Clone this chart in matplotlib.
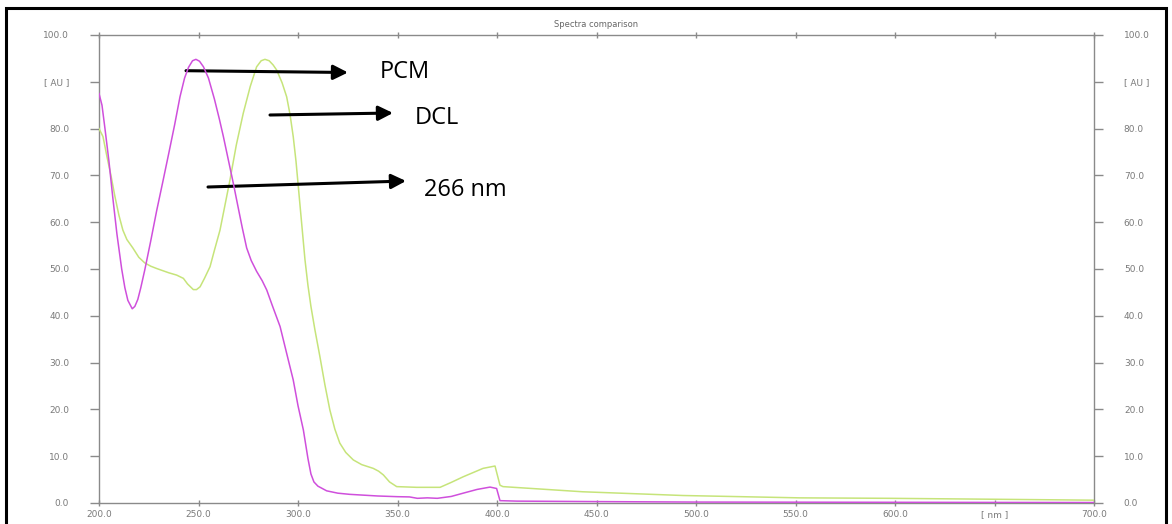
import matplotlib
matplotlib.use("Agg")
import matplotlib.pyplot as plt
from matplotlib.patches import Rectangle

# ---- data ----
pcm_nm = [200, 201.5, 203, 205, 207, 209, 211.4, 213, 214.5, 216.7, 218, 219.5, 221,
          223, 226, 229, 232, 235, 238, 240.7, 243, 245, 247, 248.7, 250.5, 252.5,
          255, 258, 260.5, 262.5, 265, 267.5, 270, 272, 274.2, 276.5, 279.2, 282,
          284.3, 287, 291, 294, 297.6, 300, 302.7, 305, 306.5, 308, 310, 314.4, 320,
          326, 340, 350, 356, 360, 365, 370, 377, 383, 390, 396.5, 399.8, 401.5, 410,
          450, 500, 600, 700]
pcm_au = [87.5, 85, 80, 73, 65, 57.5, 50, 46, 43.3, 41.5, 42, 43.5, 46,
          49.8, 56, 62.5, 68.5, 74.6, 80.8, 86.8, 90.8, 93.1, 94.5, 94.8, 94.4, 93.2,
          90.8, 86.3, 82, 78.3, 73.3, 68.3, 63, 58.8, 54.5, 51.8, 49.5, 47.5,
          45.5, 42.3, 37.7, 32.5, 26.3, 20.8, 15.6, 9.5, 6.2, 4.5, 3.6, 2.6, 2.1,
          1.85, 1.5, 1.35, 1.3, 1.0, 1.1, 1.0, 1.4, 2.1, 2.9, 3.4, 3.1, 0.5, 0.4,
          0.3, 0.2, 0.15, 0.1]

dcl_nm = [200, 202, 204, 206, 208, 210, 212, 214, 217, 220, 223, 226, 229, 235, 239,
          242.4, 244.5, 247.4, 249, 250.8, 253, 255.8, 258, 260.8, 263, 265.8, 269,
          272.5, 276, 279.2, 281.5, 283.4, 285.5, 287.5, 289.3, 292, 294.3, 296,
          297.6, 299, 300.5, 302, 303.5, 305, 306.5, 308.5, 311, 313.5, 316, 318.5,
          321, 324, 327.8, 332, 337.8, 340.5, 342.9, 346, 349.6, 359.6, 371.4, 377,
          383, 393, 399, 401.5, 403, 443, 493.5, 552, 597, 650, 700]
dcl_au = [80, 78.3, 74, 70, 65.5, 61.5, 58.3, 56.3, 54.5, 52.5, 51.3, 50.6, 50.1, 49.2,
          48.7, 48, 46.8, 45.6, 45.6, 46.2, 48, 50.5, 54, 58.3, 63, 69, 76.5,
          83.3, 89, 93.2, 94.5, 94.8, 94.5, 93.6, 92.5, 89.8, 86.8, 83,
          78.3, 73, 66, 59, 52, 46.5, 42, 37, 31.3, 25.3, 19.9, 15.8,
          12.8, 10.8, 9.2, 8.2, 7.4, 6.8, 6.0, 4.5, 3.5, 3.35, 3.35, 4.4,
          5.6, 7.4, 7.9, 3.8, 3.5, 2.4, 1.6, 1.1, 1.0, 0.8, 0.6]

x_ticks = [200, 250, 300, 350, 400, 450, 500, 550, 600, 650, 700]
x_labels = ["200.0", "250.0", "300.0", "350.0", "400.0", "450.0", "500.0",
            "550.0", "600.0", "[ nm ]", "700.0"]
y_ticks = [0, 10, 20, 30, 40, 50, 60, 70, 80, 90, 100]
y_labels = ["0.0", "10.0", "20.0", "30.0", "40.0", "50.0", "60.0", "70.0",
            "80.0", "[ AU ]", "100.0"]
title = "Spectra comparison"

W, H = 1172, 524
fig = plt.figure(figsize=(W / 100, H / 100), dpi=100)
ax = fig.add_axes([99 / W, 1 - 503 / H, (1094 - 99) / W, (503 - 35) / H])

grey = "#8a8a8a"
ax.plot(dcl_nm, dcl_au, color="#c6e47a", lw=1.1, zorder=3)
ax.plot(pcm_nm, pcm_au, color="#cf4fdc", lw=1.1, zorder=4)

ax.set_xlim(200, 700)
ax.set_ylim(0, 100)
for s in ax.spines.values():
    s.set_color(grey)
    s.set_linewidth(1.0)

ax.set_xticks(x_ticks)
ax.set_xticklabels(x_labels)
ax.set_yticks(y_ticks)
ax.set_yticklabels(y_labels)
ax.tick_params(axis="y", which="both", direction="out", length=6.5, width=1,
               color=grey, labelcolor="#7a7a7a", labelsize=6.5, pad=15,
               left=True, right=True, labelleft=True, labelright=True)
ax.tick_params(axis="x", which="both", direction="inout", length=4, width=1,
               color=grey, labelcolor="#7a7a7a", labelsize=6.5, pad=3,
               top=True, bottom=True)
ax.set_title(title, fontsize=6, color="#666666", pad=6)

# annotations (figure pixel coordinates)
def arrow(tail, tip):
    ax.annotate("", xy=(tip[0], H - tip[1]), xycoords="figure pixels",
                xytext=(tail[0], H - tail[1]), textcoords="figure pixels",
                arrowprops=dict(arrowstyle="-|>", lw=2.2, color="black",
                                mutation_scale=22, shrinkA=0, shrinkB=0))

arrow((186, 70.7), (348, 72.5))
arrow((270, 115), (393, 113))
arrow((208, 187), (406, 181))

tfont = dict(fontsize=17, family="Open Sans", color="black", va="center", ha="left")
fig.text(380 / W, 1 - 72 / H, "PCM", **tfont)
fig.text(415 / W, 1 - 118 / H, "DCL", **tfont)
fig.text(424 / W, 1 - 190 / H, "266 nm", **tfont)

# outer frame
fig.patches.append(Rectangle((6 / W, -0.02), (1166 - 6) / W, (H - 8) / H + 0.02,
                             transform=fig.transFigure, fill=False,
                             edgecolor="black", lw=2.2, zorder=10))

fig.savefig("out.png", dpi=100)
